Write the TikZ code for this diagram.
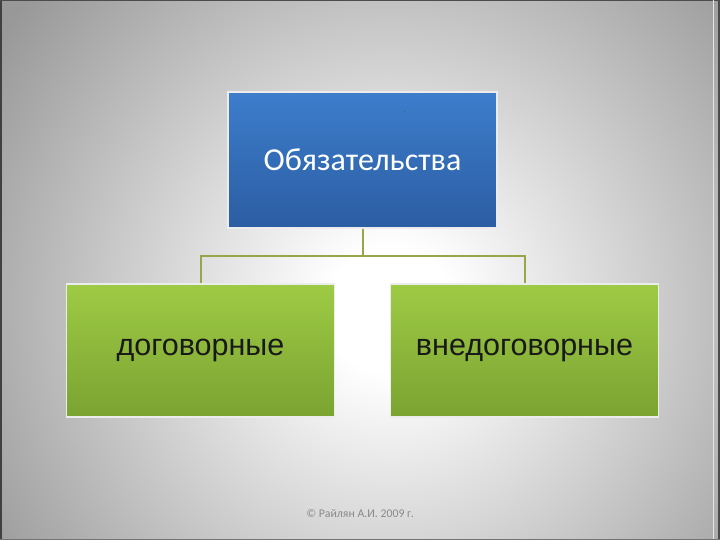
\documentclass[tikz,border=0pt]{standalone}
\usepackage{fontspec}
\setmainfont{Carlito}
\newfontfamily\arialfont{Liberation Sans}
\definecolor{bgout}{HTML}{989898}
\definecolor{bluetop}{HTML}{3D7DCC}
\definecolor{bluebot}{HTML}{2B5DA2}
\definecolor{greentop}{HTML}{9ECB45}
\definecolor{greenbot}{HTML}{7AA331}
\definecolor{connc}{HTML}{9AA448}
\definecolor{footc}{HTML}{8A8A8A}
\pgfdeclareradialshading{bgshade}{\pgfpoint{0bp}{0bp}}{color(0bp)=(white);color(3bp)=(white);color(23bp)=(bgout);color(50bp)=(bgout)}
\begin{document}
\begin{tikzpicture}[x=1bp,y=-1bp,
  bluebox/.style={rectangle, minimum width=269bp, minimum height=136bp, inner sep=0pt,
    top color=bluetop, bottom color=bluebot, draw=white!85!gray, line width=1.2bp,
    text=white, font=\fontsize{32bp}{36bp}\selectfont},
  greenbox/.style={rectangle, minimum width=268bp, minimum height=133bp, inner sep=0pt,
    top color=greentop, bottom color=greenbot, draw=white!85!gray, line width=1.2bp,
    text=black!90, font=\arialfont\fontsize{30.5bp}{34bp}\selectfont},
  conn/.style={draw=connc, line width=2bp},
  foot/.style={text=footc, font=\fontsize{11.8bp}{13bp}\selectfont, inner sep=0pt}]
\useasboundingbox (0,0) rectangle (720,540);
\begin{scope}
\clip (0,0) rectangle (720,540);
\shade[shading=bgshade] (390,310) circle (520);
\end{scope}
% scan frame
\draw[black!75, line width=2bp] (1,0) -- (1,540);
\draw[black!70, line width=1bp] (0,0.5) -- (720,0.5);
\draw[black!70, line width=2.5bp] (719,0) -- (719,540);
\draw[white!80!gray, line width=0.8bp] (713.5,0) -- (713.5,540);
\draw[black!55, line width=1bp] (0,539.5) -- (720,539.5);

\node[bluebox] (top) at (362.5,160) {\raisebox{-1bp}{Обязательства}};
\node[font=\fontsize{6bp}{7bp}\selectfont, text=bluebot!60!black, inner sep=0pt] (dot) at (405,112) {.};
\node[greenbox] (left) at (200.5,350.5) {\raisebox{-5bp}{договорные}};
\node[greenbox] (right) at (524.5,350.5) {\raisebox{-5bp}{внедоговорные}};
\coordinate (j) at (362.5,256);
\draw[conn] (top.south) -- (j);
\draw[conn] (j) -| (left.north);
\draw[conn] (j) -| (right.north);
\node[foot] (footer) at (360,514) {© Райлян А.И. 2009 г.};
\end{tikzpicture}
\end{document}
